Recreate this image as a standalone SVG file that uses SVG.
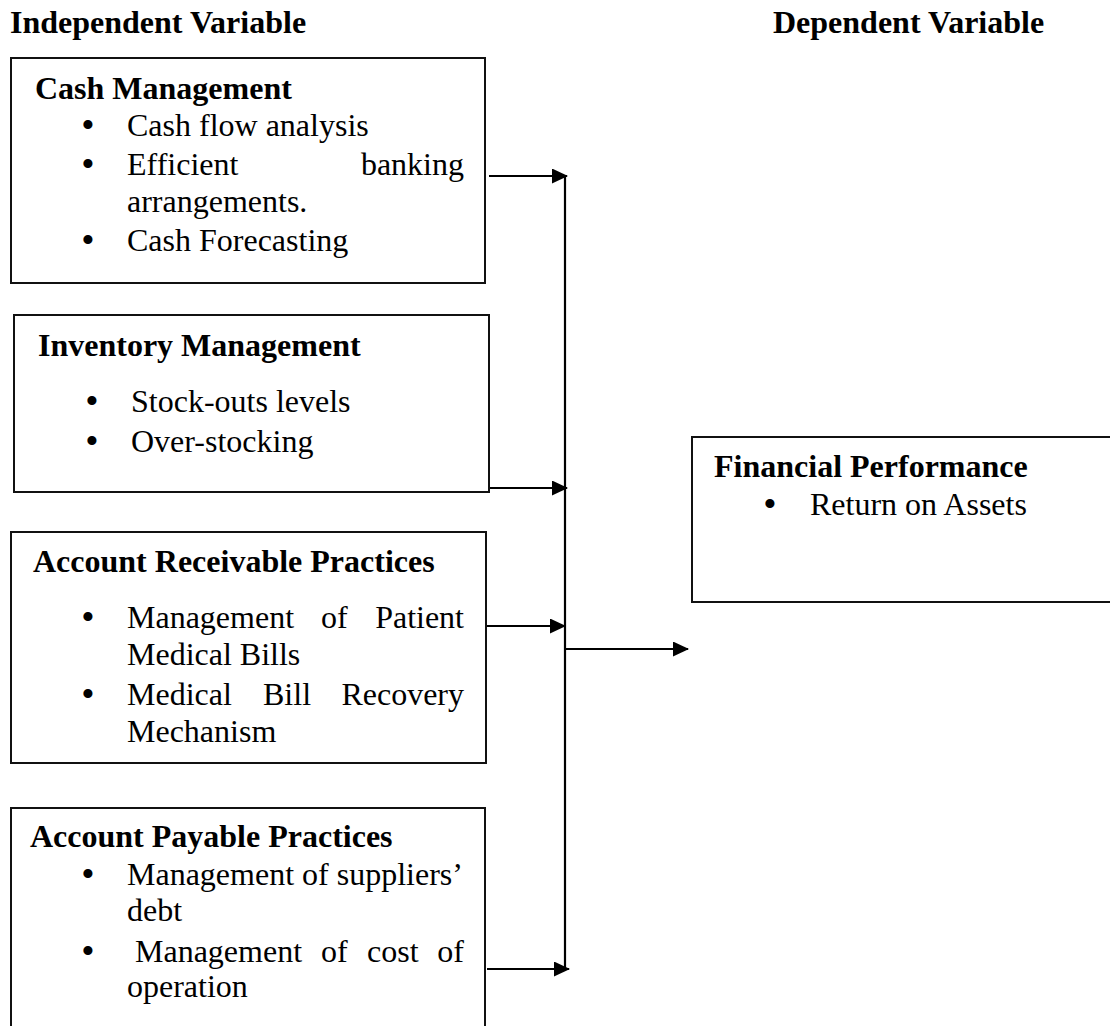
<svg xmlns="http://www.w3.org/2000/svg" width="1110" height="1026" viewBox="0 0 1110 1026">
  <style>
    text { font-family: "Liberation Serif", "Times New Roman", serif; font-size: 32px; fill: #000; }
    .h { font-weight: bold; }
    .bul { text-anchor: middle; font-size: 38px; }
    .end { text-anchor: end; }
    .box { fill: #fff; stroke: #111; stroke-width: 2; }
    .wire { fill: none; stroke: #000; stroke-width: 2.2; }
  </style>
  <defs>
    <marker id="arrow" markerUnits="userSpaceOnUse" markerWidth="17" markerHeight="16" refX="15" refY="7.5" orient="auto">
      <path d="M0,0 L16,7.5 L0,15 z" fill="#000"/>
    </marker>
  </defs>

  <rect width="1110" height="1026" fill="#fff"/>

  <!-- column titles -->
  <text class="h" x="10" y="33">Independent Variable</text>
  <text class="h" x="773" y="33">Dependent Variable</text>

  <!-- connectors -->
  <g id="connectors">
    <path class="wire" d="M565,176 V969"/>
    <path class="wire" d="M489,176 H567" marker-end="url(#arrow)"/>
    <path class="wire" d="M489,488 H567" marker-end="url(#arrow)"/>
    <path class="wire" d="M486,626 H565" marker-end="url(#arrow)"/>
    <path class="wire" d="M487,969 H569" marker-end="url(#arrow)"/>
    <path class="wire" d="M565,649 H688" marker-end="url(#arrow)"/>
  </g>

  <!-- cash management -->
  <g id="cash-management">
    <rect class="box" x="11" y="58" width="474" height="225"/>
    <text class="h" x="35" y="99">Cash Management</text>
    <text class="bul" x="88" y="138">•</text>
    <text x="127" y="136">Cash flow analysis</text>
    <text class="bul" x="88" y="177">•</text>
    <text x="127" y="175">Efficient</text>
    <text class="end" x="464" y="175">banking</text>
    <text x="127" y="212">arrangements.</text>
    <text class="bul" x="88" y="253">•</text>
    <text x="127" y="251">Cash Forecasting</text>
  </g>

  <!-- inventory management -->
  <g id="inventory-management">
    <rect class="box" x="14" y="315" width="475" height="177"/>
    <text class="h" x="38" y="356">Inventory Management</text>
    <text class="bul" x="92" y="414">•</text>
    <text x="131" y="412">Stock-outs levels</text>
    <text class="bul" x="92" y="454">•</text>
    <text x="131" y="452">Over-stocking</text>
  </g>

  <!-- account receivable practices -->
  <g id="account-receivable">
    <rect class="box" x="11" y="532" width="475" height="231"/>
    <text class="h" x="33" y="572">Account Receivable Practices</text>
    <text class="bul" x="88" y="630">•</text>
    <text x="127" y="628">Management</text>
    <text x="321" y="628">of</text>
    <text class="end" x="464" y="628">Patient</text>
    <text x="127" y="665">Medical Bills</text>
    <text class="bul" x="88" y="707">•</text>
    <text x="127" y="705">Medical</text>
    <text x="263" y="705">Bill</text>
    <text class="end" x="464" y="705">Recovery</text>
    <text x="127" y="742">Mechanism</text>
  </g>

  <!-- account payable practices -->
  <g id="account-payable">
    <rect class="box" x="11" y="808" width="474" height="240"/>
    <text class="h" x="30" y="847">Account Payable Practices</text>
    <text class="bul" x="88" y="887">•</text>
    <text x="127" y="885">Management of suppliers’</text>
    <text x="127" y="921">debt</text>
    <text class="bul" x="88" y="964">•</text>
    <text x="135" y="962">Management</text>
    <text x="321" y="962">of</text>
    <text x="367" y="962">cost</text>
    <text class="end" x="464" y="962">of</text>
    <text x="127" y="997">operation</text>
  </g>

  <!-- financial performance -->
  <g id="financial-performance">
    <rect class="box" x="692" y="437" width="440" height="165"/>
    <text class="h" x="714" y="477">Financial Performance</text>
    <text class="bul" x="770" y="517">•</text>
    <text x="810" y="515">Return on Assets</text>
  </g>
</svg>
